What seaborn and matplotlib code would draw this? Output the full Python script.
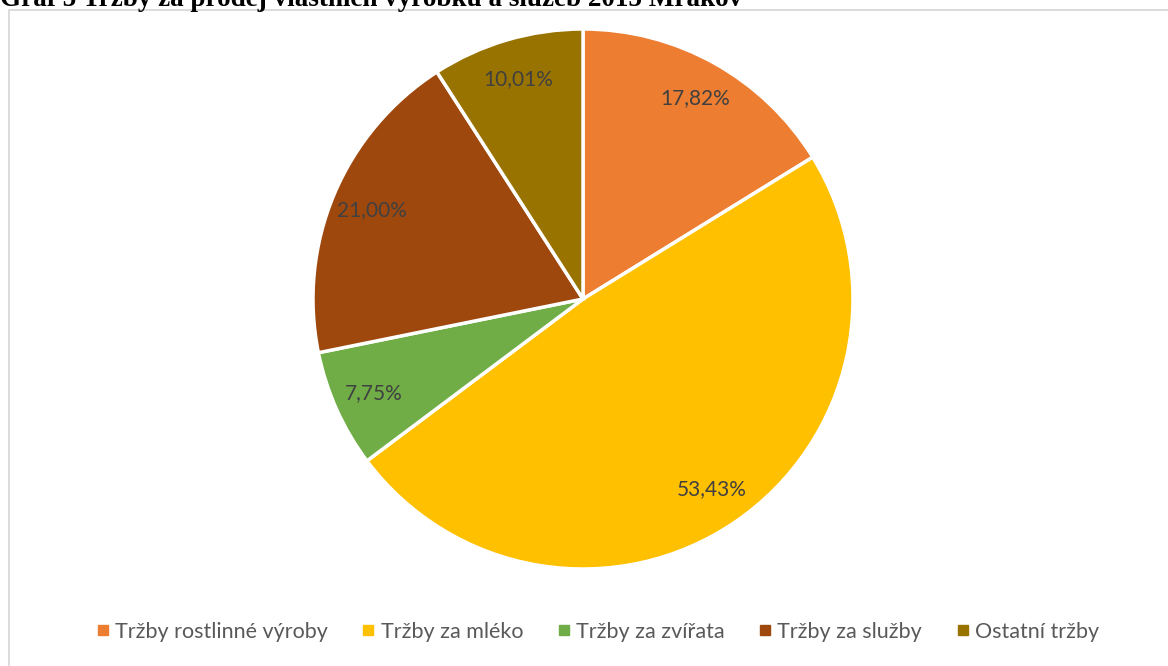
import numpy as np
import matplotlib
matplotlib.use("Agg")
import matplotlib.pyplot as plt
from matplotlib.lines import Line2D
from matplotlib.patches import Rectangle
import seaborn as sns

# Revenue shares (as reported, in %)
categories = ["Tržby rostlinné výroby", "Tržby za mléko", "Tržby za zvířata",
              "Tržby za služby", "Ostatní tržby"]
shares = [17.82, 53.43, 7.75, 21.00, 10.01]
colors = ["#ED7D31", "#FFC000", "#70AD47", "#9E480E", "#997300"]
title = "Graf 5 Tržby za prodej vlastních výrobků a služeb 2015 Mrákov"

sns.set_theme(style="white")
plt.rcParams["font.family"] = ["Lato", "DejaVu Sans"]

W, H = 1168, 666
fig = plt.figure(figsize=(W / 100, H / 100), dpi=100)
fig.patch.set_facecolor("white")

# chart frame (left and top edges visible)
fig.patches.append(Rectangle((8.5 / W, -0.1), 1.2, 1.1 - 10.5 / H,
                             transform=fig.transFigure, fill=False,
                             edgecolor="#D9D9D9", linewidth=1.3, zorder=0))

# caption above the chart frame
fig.text(0.0, 1 - 6.5 / H, title, family="Liberation Serif", weight="bold",
         fontsize=19.5, color="black", ha="left", va="baseline")

cx, cy, r = 583, 299, 270
ax = fig.add_axes([(cx - r) / W, (H - cy - r) / H, 2 * r / W, 2 * r / H])
palette = sns.color_palette(colors)
wedges, _ = ax.pie(shares, colors=palette, startangle=90, counterclock=False,
                   wedgeprops=dict(edgecolor="white", linewidth=2.5))
ax.set_xlim(-1, 1)
ax.set_ylim(-1, 1)
ax.set_aspect("equal")
ax.axis("off")

# value labels inside each wedge
for w, v in zip(wedges, shares):
    ang = np.deg2rad((w.theta1 + w.theta2) / 2)
    ax.text(0.85 * np.cos(ang), 0.85 * np.sin(ang),
            f"{v:.2f}".replace(".", ",") + "%",
            ha="center", va="center", fontsize=15, color="#404040")

handles = [Line2D([], [], marker="s", linestyle="none", markersize=6.5,
                  markerfacecolor=c, markeredgecolor=c) for c in palette]
fig.legend(handles, categories, loc="center", ncol=5,
           bbox_to_anchor=(598 / W, 1 - 632 / H), frameon=False,
           fontsize=15.5, labelcolor="#595959", handlelength=0.55,
           handletextpad=0.3, columnspacing=1.6)

fig.savefig("out.png", dpi=100, facecolor="white")
